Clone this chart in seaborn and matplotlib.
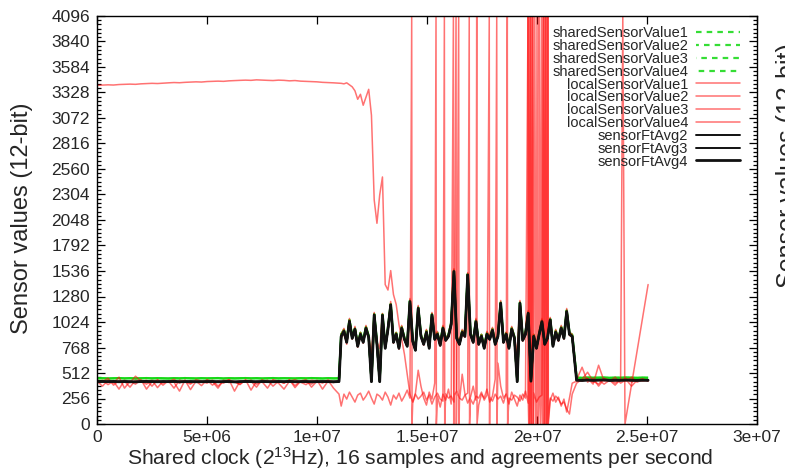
import numpy as np
import matplotlib
matplotlib.use("Agg")
import matplotlib.pyplot as plt
import seaborn as sns
from matplotlib.ticker import AutoMinorLocator

# ---- sample clocks (shared clock ticks) -------------------------------------
t_pre = np.arange(0.0, 1.1e7 + 1, 2.5e5)        # 45 samples, idle phase
t_mid = np.arange(1.11e7, 2.16e7 + 1, 1.25e5)    # 85 samples, disturbed phase
t_post = np.arange(2.18e7, 2.505e7 + 1, 2.5e5)   # 14 samples, recovery phase

# ---- fault-tolerant averages (sensorFtAvg2..4 agree) ------------------------
ft_pre = [428, 426, 425, 427, 424, 426, 425, 423, 426,
          427, 425, 424, 426, 425, 427, 424, 425, 426,
          424, 425, 427, 426, 424, 425, 426, 423, 425,
          427, 425, 424, 426, 425, 424, 426, 425, 427,
          424, 425, 426, 424, 425, 426, 425, 424, 426]
ft_mid = [880, 930, 820, 1030, 860, 950, 780, 900, 820, 960,
          870, 425, 1094, 800, 425, 1090, 760, 950, 1195, 820,
          900, 760, 960, 850, 780, 1228, 830, 740, 1160, 880,
          800, 920, 760, 1094, 850, 900, 790, 960, 840, 880,
          1000, 1530, 860, 800, 920, 880, 1496, 900, 820, 1027,
          800, 880, 760, 900, 850, 940, 800, 880, 1211, 820,
          900, 760, 950, 860, 425, 1211, 840, 900, 1111, 430,
          880, 760, 900, 1027, 800, 860, 1044, 780, 920, 840,
          960, 860, 1128, 900, 880]
ft_post = [440, 438, 441, 439, 440, 442, 438, 440, 439, 441, 440, 438, 440, 439]

# ---- shared sensor values (sharedSensorValue1..4 agree) ---------------------
shared_pre = [458, 460, 457, 459, 461, 458, 460, 457, 459,
              461, 458, 460, 459, 457, 460, 458, 461, 459,
              457, 460, 458, 459, 461, 457, 460, 458, 459,
              461, 458, 460, 457, 459, 461, 458, 460, 459,
              457, 460, 458, 461, 459, 457, 460, 458, 459]
shared_mid = [900, 945, 835, 1045, 875, 960, 795, 915, 835, 975,
              885, 440, 1105, 815, 440, 1100, 775, 965, 1205, 835,
              915, 775, 975, 865, 795, 1238, 845, 755, 1170, 895,
              815, 935, 775, 1105, 865, 915, 805, 975, 855, 895,
              1015, 1540, 875, 815, 935, 895, 1506, 915, 835, 1040,
              815, 895, 775, 915, 865, 955, 815, 895, 1220, 835,
              915, 775, 965, 875, 440, 1220, 855, 915, 1122, 445,
              895, 775, 915, 1040, 815, 875, 1055, 795, 935, 855,
              975, 875, 1140, 915, 895]
shared_post = [465, 463, 466, 464, 465, 466, 463, 465, 464, 466, 465, 463, 465, 464]

# ---- local sensor readings --------------------------------------------------
local1_pre = [3400, 3402, 3405, 3403, 3408, 3410, 3412, 3410, 3415,
              3418, 3420, 3418, 3422, 3425, 3428, 3426, 3430, 3432,
              3435, 3433, 3438, 3440, 3442, 3440, 3445, 3448, 3450,
              3452, 3450, 3455, 3452, 3450, 3448, 3452, 3450, 3445,
              3448, 3442, 3440, 3438, 3435, 3430, 3428, 3425, 3422]
local1_mid = [3420, 3415, 3425, 3405, 3385, 3345, 3260, 3310, 3200, 3280,
              3360, 3100, 2250, 2015, 2300, 2480, 1400, 1345, 1540, 1300,
              1200, 1000, 850, 700, 500, 300, 220, 310, 540, 380,
              260, 190, 320, 250, 410, 280, 170, 300, 240, 350,
              200, 280, 330, 230, 500, 300, 210, 270, 380, 240,
              190, 300, 260, 350, 220, 280, 450, 610, 380, 260,
              300, 200, 320, 250, 180, 290, 240, 330, 210, 270,
              300, 230, 350, 260, 200, 290, 240, 310, 220, 270,
              180, 250, 120, 260, 410]
local1_post = [430, 440, 460, 400, 590, 430, 445, 410, 440, 460, 420, 445, 430, 440]

local2_pre = [430, 380, 440, 410, 470, 360, 430, 400, 445,
              350, 425, 440, 390, 435, 420, 330, 440, 410,
              430, 385, 445, 425, 360, 440, 415, 430, 395,
              445, 340, 430, 420, 440, 380, 430, 410, 445,
              365, 430, 425, 400, 440, 350, 430, 415, 435]
local2_mid = [900, 960, 840, 1060, 850, 980, 800, 920, 810, 990,
              880, 700, 1120, 820, 760, 1110, 780, 970, 1230, 840,
              920, 780, 990, 860, 800, 1260, 850, 760, 1190, 900,
              820, 950, 780, 1120, 870, 930, 800, 990, 860, 900,
              1030, 1560, 880, 820, 950, 900, 1520, 920, 840, 1060,
              820, 900, 780, 930, 870, 970, 820, 900, 1240, 840,
              920, 780, 980, 880, 700, 1240, 860, 930, 1140, 720,
              900, 780, 930, 1060, 820, 880, 1070, 800, 950, 860,
              990, 880, 1160, 920, 900]
local2_post = [445, 570, 420, 460, 380, 450, 430, 470, 410, 445, 380, 440, 455, 430]

local3_pre = [420, 440, 395, 430, 350, 440, 415, 480, 430,
              400, 440, 365, 430, 425, 450, 410, 440, 345,
              430, 420, 440, 390, 435, 410, 445, 330, 430,
              420, 440, 400, 425, 360, 445, 430, 410, 440,
              385, 430, 445, 370, 430, 420, 440, 360, 300]
local3_mid = [180, 300, 250, 320, 270, 220, 290, 310, 240, 280,
              330, 260, 200, 300, 280, 240, 320, 270, 190, 290,
              250, 310, 230, 280, 340, 260, 210, 300, 250, 280,
              320, 240, 290, 200, 270, 310, 250, 230, 300, 260,
              280, 220, 330, 260, 240, 290, 310, 250, 200, 280,
              260, 320, 240, 290, 270, 230, 300, 250, 280, 210,
              310, 260, 240, 290, 270, 230, 300, 260, 250, 280,
              310, 220, 270, 290, 240, 300, 260, 230, 280, 250,
              200, 220, 150, 100, 300]
local3_post = [410, 450, 520, 430, 400, 460, 440, 390, 450, 430, 470, 420, 445, 435]

local4_pre = [440, 425, 460, 390, 435, 430, 370, 440, 420,
              440, 380, 445, 410, 430, 360, 440, 425, 400,
              445, 430, 410, 440, 380, 430, 445, 420, 400,
              440, 430, 370, 445, 420, 440, 410, 350, 430,
              445, 420, 395, 440, 430, 410, 440, 425, 430]
local4_mid = [860, 910, 800, 1000, 870, 930, 770, 880, 840, 940,
              860, 640, 1070, 790, 620, 1060, 770, 930, 1170, 810,
              890, 750, 940, 840, 790, 1200, 820, 750, 1140, 870,
              790, 900, 770, 1070, 840, 880, 780, 940, 830, 870,
              980, 1500, 850, 790, 900, 870, 1470, 890, 810, 1000,
              790, 870, 770, 880, 840, 920, 790, 870, 1190, 810,
              890, 770, 930, 850, 640, 1190, 830, 890, 1090, 660,
              870, 770, 890, 1000, 790, 850, 1020, 790, 900, 830,
              940, 850, 1100, 890, 870]
local4_post = [440, 430, 455, 420, 445, 400, 440, 430, 435, 67, 400, 734, 1067, 1400]

# ---- out-of-range readings (full-scale spikes) -------------------------------
local1_spike_t = [1.541e7, 1.5425e7, 1.620e7, 1.6215e7, 1.644e7, 1.6455e7,
                  1.726e7, 1.7275e7, 1.817e7, 1.8185e7,
                  1.960e7, 1.965e7, 1.970e7, 1.975e7, 1.980e7, 1.985e7, 1.990e7,
                  1.995e7, 2.000e7, 2.005e7, 2.010e7, 2.015e7, 2.020e7, 2.025e7,
                  2.030e7, 2.035e7, 2.040e7, 2.045e7, 2.050e7, 2.0515e7]
local1_spike_v = [4095, 0, 4095, 0, 4095, 0,
                  4095, 0, 4095, 0,
                  4095, 0, 4095, 0, 4095, 0, 4095,
                  0, 4095, 0, 4095, 0, 4095, 0,
                  4095, 0, 4095, 0, 4095, 0]
local3_spike_t = [1.4305e7, 1.432e7, 1.579e7, 1.5805e7, 1.632e7, 1.6335e7,
                  1.692e7, 1.6935e7, 1.783e7, 1.7845e7, 1.865e7, 1.8665e7,
                  1.959e7, 1.9625e7, 1.966e7, 1.9695e7, 1.973e7, 1.9765e7, 1.980e7, 1.9815e7,
                  2.027e7, 2.0305e7, 2.034e7, 2.0375e7, 2.041e7, 2.0445e7, 2.048e7, 2.0495e7]
local3_spike_v = [4095, 0, 4095, 0, 4095, 0,
                  4095, 0, 4095, 0, 4095, 0,
                  4095, 0, 4095, 0, 4095, 0, 4095, 0,
                  4095, 0, 4095, 0, 4095, 0, 4095, 0]
local4_spike_t = [2.39e7, 2.40e7]
local4_spike_v = [4095, 0]

# ---- axis ticks ---------------------------------------------------------------
x_ticks = [0, 5e6, 1e7, 1.5e7, 2e7, 2.5e7, 3e7]
x_tick_labels = ["0", "5e+06", "1e+07", "1.5e+07", "2e+07", "2.5e+07", "3e+07"]
y_ticks = [0, 256, 512, 768, 1024, 1280, 1536, 1792, 2048, 2304, 2560,
           2816, 3072, 3328, 3584, 3840, 4096]


def series(pre, mid, post, spike_t=(), spike_v=()):
    t = np.concatenate([t_pre, t_mid, t_post, np.asarray(spike_t, float)])
    v = np.concatenate([pre, mid, post, spike_v]).astype(float)
    order = np.argsort(t, kind="stable")
    return t[order], v[order]


sns.set_style("ticks")
plt.rcParams["font.family"] = ["Liberation Sans", "DejaVu Sans"]
plt.rcParams["mathtext.fontset"] = "custom"
plt.rcParams["mathtext.rm"] = "Liberation Sans"
plt.rcParams["mathtext.it"] = "Liberation Sans:italic"
plt.rcParams["mathtext.default"] = "regular"

fig = plt.figure(figsize=(7.85, 4.72), dpi=100)
ax = fig.add_axes([97 / 785, 48 / 472, 660 / 785, 408 / 472])


def draw(t, v, **kw):
    sns.lineplot(x=t, y=v, ax=ax, estimator=None, sort=False, errorbar=None, **kw)


green = "#12d812"
red = "#ff0c0c"

# shared values (green, dashed)
for i in range(4):
    t, v = series(shared_pre, shared_mid, shared_post)
    draw(t, v, color=green, alpha=0.85, linewidth=1.6,
         linestyle=(i * 1.2, (2.5, 2.3)), label=f"sharedSensorValue{i + 1}")

# local sensor readings (light red)
local_sets = [
    (local1_pre, local1_mid, local1_post, local1_spike_t, local1_spike_v),
    (local2_pre, local2_mid, local2_post, (), ()),
    (local3_pre, local3_mid, local3_post, local3_spike_t, local3_spike_v),
    (local4_pre, local4_mid, local4_post, local4_spike_t, local4_spike_v),
]
for i, (pre, mid, post, st, sv) in enumerate(local_sets):
    t, v = series(pre, mid, post, st, sv)
    draw(t, v, color=red, alpha=0.58, linewidth=1.1, label=f"localSensorValue{i + 1}")

# fault-tolerant averages (black)
for i, lw in zip((2, 3, 4), (1.4, 1.4, 2.0)):
    t, v = series(ft_pre, ft_mid, ft_post)
    draw(t, v, color="#111111", linewidth=lw, label=f"sensorFtAvg{i}")

ax.set_xlim(0, 3e7)
ax.set_ylim(0, 4096)
ax.set_xticks(x_ticks)
ax.set_xticklabels(x_tick_labels)
ax.set_yticks(y_ticks)
ax.set_yticklabels([str(y) for y in y_ticks])
ax.yaxis.set_minor_locator(AutoMinorLocator(6))
ax.tick_params(which="both", direction="in", top=True, right=True,
               color="black", width=0.9, labelsize=12.5)
ax.tick_params(which="major", length=6)
ax.tick_params(which="minor", length=3)
ax.tick_params(axis="x", which="minor", bottom=False, top=False)
ax.tick_params(axis="y", pad=5)
ax.tick_params(axis="x", pad=4)
for s in ax.spines.values():
    s.set_linewidth(1.0)
    s.set_color("black")
ax.grid(False)

ax.set_xlabel(r"Shared clock (2$^{13}$Hz), 16 samples and agreements per second",
              fontsize=15.2, labelpad=0)
ax.xaxis.set_label_coords(0.49, -0.052)
ax.set_ylabel("Sensor values (12-bit)", fontsize=17)
ax.yaxis.set_label_coords(-0.097, 0.505)

handles, labels = ax.get_legend_handles_labels()
leg = ax.legend(handles, labels, loc="upper right", bbox_to_anchor=(0.974, 0.975),
                frameon=False, markerfirst=False, fontsize=10.5, handlelength=3.0,
                handletextpad=0.55, labelspacing=-0.08, borderpad=0, borderaxespad=0)

# neighbouring panel's axis title, cut by the figure edge
fig.text(776 / 785, 0.65, "Sensor values (12-bit)", rotation=90, ha="left", va="center",
         fontsize=18)

fig.savefig("out.png", dpi=100)
